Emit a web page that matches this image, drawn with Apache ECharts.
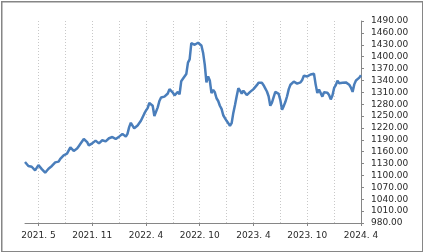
<!DOCTYPE html>
<html>
<head>
<meta charset="utf-8">
<script src="https://cdn.jsdelivr.net/npm/echarts@6/dist/echarts.min.js"></script>
<style>html,body{margin:0;padding:0;background:#fff}#c{width:423px;height:252px}</style>
</head>
<body>
<div id="c"></div>
<script>
// Series values (one per sample step)
const values = [
1134,1129,1124,1126,1122,1118,1113,1118,1126,1121,
1116,1112,1107,1112,1117,1120,1124,1129,1133,1130,
1135,1142,1146,1151,1148,1155,1153,1171,1166,1162,
1159,1168,1174,1180,1185,1192,1196,1184,1176,1175,
1181,1186,1188,1183,1181,1184,1189,1192,1186,1191,
1194,1190,1197,1200,1192,1195,1198,1203,1205,1203,
1198,1205,1222,1233,1236,1219,1221,1226,1228,1238,
1247,1256,1264,1270,1283,1288,1276,1250,1247,1272,
1288,1297,1295,1299,1302,1307,1318,1320,1309,1302,
1307,1311,1305,1338,1344,1347,1356,1385,1393,1434,
1436,1430,1426,1435,1436,1428,1410,1380,1335,1350,
1340,1308,1316,1310,1295,1288,1276,1268,1252,1245,
1238,1232,1225,1232,1258,1278,1300,1320,1314,1307,
1314,1311,1303,1306,1311,1314,1318,1323,1328,1334,
1339,1334,1328,1320,1312,1300,1276,1284,1298,1311,
1309,1306,1290,1266,1275,1286,1300,1318,1329,1334,
1337,1339,1332,1329,1335,1341,1352,1356,1350,1352,
1355,1350,1357,1330,1308,1317,1312,1299,1310,1314,
1309,1303,1292,1302,1321,1328,1339,1333,1331,1334,
1332,1335,1335,1329,1322,1311,1330,1340,1344,1347,
1353
];
// Tick labels and the sample index where each one sits
const tickLabels = ['2021. 5','2021. 11','2022. 4','2022. 10','2023. 4','2023. 10','2024. 4'];
const tickIndex = [8,40,72,104,136,168,200];
// Vertical dotted gridlines: every 16 samples starting at 8
const gridStart = 8, gridStep = 16;
const yMin = 980, yMax = 1490, yStep = 30;

const categories = values.map((v,i)=>String(i));
const labelMap = {};
tickIndex.forEach((k,j)=>{labelMap[k]=tickLabels[j];});

const chart = echarts.init(document.getElementById('c'), null, {renderer:'canvas'});
chart.setOption({
  animation:false,
  backgroundColor:'#fff',
  grid:{left:25,right:62,top:21,bottom:29,containLabel:false},
  graphic:{elements:[{type:'rect',left:1,top:1,z:100,silent:true,shape:{width:421,height:250},style:{fill:'transparent',stroke:'#868686',lineWidth:1.5}}]},
  xAxis:{
    type:'category',
    data:categories,
    boundaryGap:false,
    axisLine:{show:true,lineStyle:{color:'#868686',width:1}},
    axisTick:{show:true,length:3,interval:(i)=>labelMap[i]!==undefined,lineStyle:{color:'#868686'}},
    axisLabel:{interval:(i)=>labelMap[i]!==undefined,formatter:(v,i)=>labelMap[i]||'',color:'#2a2a2a',fontFamily:'DejaVu Sans',fontSize:9,margin:8},
    splitLine:{show:true,interval:(i)=>i>=gridStart&&(i-gridStart)%gridStep===0,lineStyle:{color:'#c8c8c8',type:[1,2],width:1}}
  },
  yAxis:{
    type:'value',
    position:'right',
    min:yMin,max:yMax,interval:yStep,
    axisLine:{show:true,lineStyle:{color:'#868686',width:1}},
    axisTick:{show:true,length:3,inside:false,lineStyle:{color:'#868686'}},
    axisLabel:{formatter:(v)=>v.toFixed(2),color:'#2a2a2a',fontFamily:'DejaVu Sans',fontSize:9,margin:10},
    splitLine:{show:false}
  },
  series:[{
    type:'line',
    data:values,
    showSymbol:false,
    symbol:'none',
    lineStyle:{color:'#4a7ebb',width:2.5},
    itemStyle:{color:'#4a7ebb'}
  }]
});
</script>
</body>
</html>
